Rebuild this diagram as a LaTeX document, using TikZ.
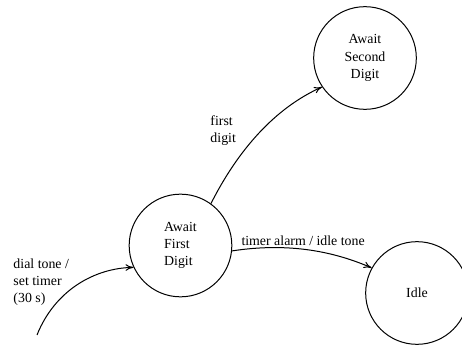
\documentclass[tikz,border=0pt]{standalone}
\usepackage{fontspec}
\setmainfont{Liberation Serif}
\usetikzlibrary{arrows.meta}

\tikzset{every picture/.style={line width=0.75pt}}
\tikzset{state/.style={draw, circle, minimum size=77pt, inner sep=0pt},
  lbl/.style={anchor=north west, inner sep=0.75pt, align=left}}

\begin{document}
\begin{tikzpicture}[x=0.75pt,y=0.75pt,yscale=-1,xscale=1,>={To[length=6pt,width=5pt]},
  font=\fontsize{10.4}{12.9}\selectfont]
\path [use as bounding box] (0,0) rectangle (462,346);

% States
\node [state, align=left] (first) at (180.5,245.5) {Await\\First\\Digit};
\node [state, align=center] (second) at (365,58) {Await\\Second\\Digit};
\node [state] (idle) at (417,293) {Idle};
\coordinate (start) at (37,335);

%Curve Lines
\draw [->] (start) .. controls (55,290) and (95,268) .. (first.205) ;
%Curve Lines
\draw [->] (first.54) .. controls (238,150) and (275,108) .. (second.214) ;
%Curve Lines
\draw [->] (first.-6) .. controls (290,242) and (335,252) .. (idle.151) ;

% Text Node
\node [lbl] (dial) at (12,257) {dial tone /\\set timer\\(30 s)};
% Text Node
\node [lbl] (fdig) at (209,114) {first\\digit};
% Text Node
\node [lbl] (alarm) at (240,234) {timer alarm / idle tone};

\end{tikzpicture}
\end{document}
